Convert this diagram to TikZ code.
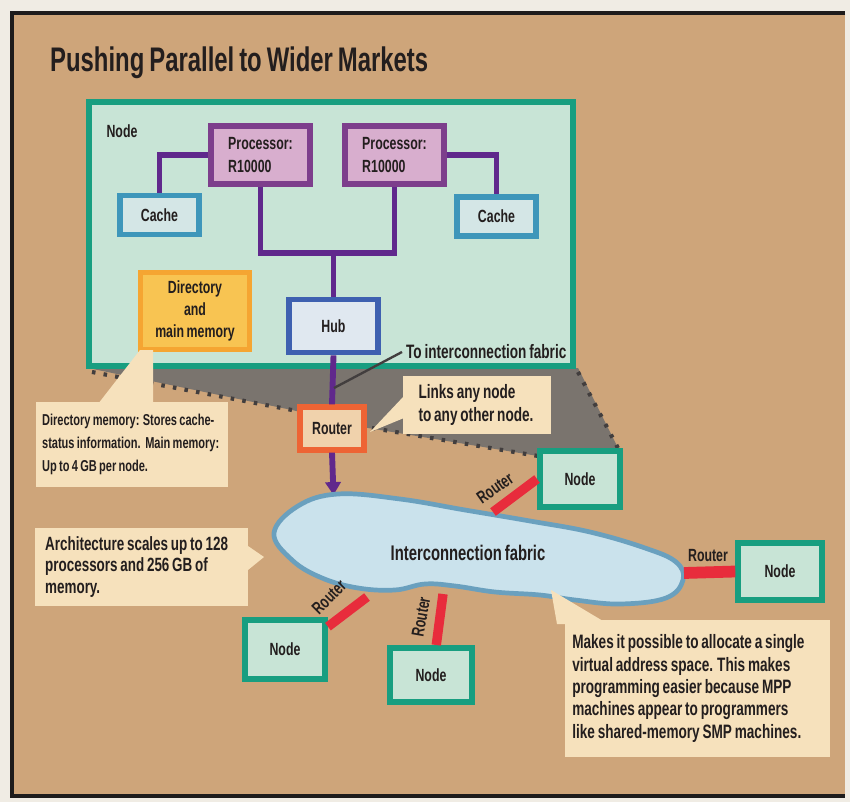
\documentclass[tikz,border=0pt]{standalone}
\usepackage{fontspec}
\setmainfont{Liberation Sans}[FakeStretch=0.7,WordSpace=0.75]
\usetikzlibrary{arrows.meta}

\definecolor{pagelight}{RGB}{240,236,228}
\definecolor{bgtan}{RGB}{206,165,122}
\definecolor{framedark}{RGB}{30,28,28}
\definecolor{inkdark}{RGB}{35,30,30}
\definecolor{nodeteal}{RGB}{24,158,128}
\definecolor{nodefill}{RGB}{200,228,214}
\definecolor{procborder}{RGB}{125,62,140}
\definecolor{procfill}{RGB}{216,174,206}
\definecolor{cacheborder}{RGB}{62,150,186}
\definecolor{cachefill}{RGB}{212,230,230}
\definecolor{hubborder}{RGB}{62,96,176}
\definecolor{hubfill}{RGB}{224,232,240}
\definecolor{busviolet}{RGB}{96,40,140}
\definecolor{dirfill}{RGB}{248,196,82}
\definecolor{dirborder}{RGB}{245,165,50}
\definecolor{routerborder}{RGB}{238,100,52}
\definecolor{routerfill}{RGB}{240,210,172}
\definecolor{calloutfill}{RGB}{246,225,188}
\definecolor{shadowgray}{RGB}{122,116,110}
\definecolor{dotgray}{RGB}{66,62,62}
\definecolor{cloudfill}{RGB}{202,226,236}
\definecolor{cloudborder}{RGB}{106,160,190}
\definecolor{linkred}{RGB}{232,44,60}

\begin{document}
\begin{tikzpicture}[x=0.85pt,y=-0.85pt]
\tikzset{
  every node/.style={font=\bfseries\fontsize{15}{19}\selectfont,text=inkdark},
  nodebox/.style={rectangle,draw=nodeteal,fill=nodefill,line width=5pt},
  procbox/.style={rectangle,draw=procborder,fill=procfill,line width=5pt,minimum width=84pt,minimum height=49pt,align=left},
  cachebox/.style={rectangle,draw=cacheborder,fill=cachefill,line width=4.5pt,minimum width=67pt,minimum height=33pt},
  bus/.style={draw=busviolet,line width=5pt},
  callout/.style={rectangle,fill=calloutfill,align=flush left,anchor=west},
  dotedge/.style={draw=dotgray,line width=3.5pt,dash pattern=on 3pt off 7pt},
  routerlink/.style={draw=linkred,line width=8pt},
  routerlabel/.style={font=\bfseries\fontsize{15}{16}\selectfont,inner sep=0pt}
}
\useasboundingbox (0,0) rectangle (850,802);
% page and frame
\fill[pagelight] (0,0) rectangle (850,802);
\fill[bgtan] (10,12) rectangle (845,796);
\draw[framedark,line width=4pt] (845,13) -- (12,13) -- (12,796) -- (845,796);
\node[anchor=west,font=\bfseries\fontsize{29}{32}\selectfont] (n_title) at (46,63) {Pushing Parallel to Wider Markets};

% shadow cone below the node
\fill[shadowgray] (88,368) -- (578,368) -- (620,452) -- (538,456) -- (368,428) -- (292,410) -- cycle;
\draw[dotedge] (92,372) -- (292,410);
\draw[dotedge] (372,428) -- (538,456);
\draw[dotedge] (578,372) -- (620,452);

% the node
\node[nodebox,minimum width=412pt,minimum height=225pt] (n_node) at (331,234) {};
\node (n_nodetag) at (122,131) {Node};
\node[procbox] (n_proc1) at (260.5,155) {Processor:\\R10000};
\node[procbox] (n_proc2) at (394.5,155) {Processor:\\R10000};
\node[cachebox] (n_cache1) at (159.5,215) {Cache};
\node[cachebox] (n_cache2) at (496.5,216.5) {Cache};
\node[rectangle,draw=hubborder,fill=hubfill,line width=5pt,minimum width=75pt,minimum height=45pt] (n_hub) at (333.5,326) {Hub};
\node[rectangle,draw=dirborder,fill=dirfill,line width=4pt,minimum width=93pt,minimum height=66pt,align=center] (n_dir) at (195,311) {Directory\\and\\main memory};
\coordinate (c_bus) at (333.5,253);
\coordinate (c_busmark) at (334,388);
\coordinate (c_fabrictop) at (333.5,495);
\draw[bus] (n_proc1.west) -| (n_cache1.north);
\draw[bus] (n_proc2.east) -| (n_cache2.north);
\draw[bus] (n_proc1.south) |- (c_bus) -| (n_proc2.south);
\draw[bus] (c_bus) -- (n_hub.north);
\node[anchor=west,font=\bfseries\fontsize{16.5}{19}\selectfont] (n_tolabel) at (402,352) {To interconnection fabric};

% callouts next to the node
\fill[calloutfill] (98,404) -- (140,350) -- (153,350) -- (153,404) -- cycle;
\node[callout,font=\bfseries\fontsize{13.4}{19.5}\selectfont,text width=153pt,inner xsep=5pt,minimum height=72pt] (n_dirnote) at (36,444.5) {Directory memory: Stores cache-\\status information.\ \ Main memory:\\Up to 4 GB per node.};
\fill[calloutfill] (404,396) -- (370,432) -- (404,418) -- cycle;
\node[callout,font=\bfseries\fontsize{16.5}{19.5}\selectfont,text width=100pt,inner xsep=13pt,minimum height=49pt] (n_linknote) at (403,405) {Links any node\\to any other node.};

% router and fabric
\node[rectangle,draw=routerborder,fill=routerfill,line width=5pt,minimum width=55pt,minimum height=36pt] (n_router) at (332,428.5) {Router};
\draw[bus] (n_hub.south) -- (n_router.north);
\draw[dotgray,line width=2pt] (n_tolabel.west) -- (c_busmark);
\draw[bus,-{Triangle[length=11pt,width=13pt]}] (n_router.south) -- (c_fabrictop);
\filldraw[fill=cloudfill,draw=cloudborder,line width=4pt] plot[smooth cycle,tension=0.65] coordinates {(274,533) (298,506) (338,494) (400,499) (465,510) (530,521) (590,532) (645,548) (676,562) (683,580) (666,598) (620,604) (575,600) (540,595) (495,592) (455,586) (425,584) (395,590) (358,588) (322,578) (292,560)};
\node[font=\bfseries\fontsize{18}{20}\selectfont] (n_fabric) at (468,553) {Interconnection fabric};

% other nodes
\node[nodebox,minimum width=68pt,minimum height=48pt] (n_nodeA) at (580,479) {Node};
\node[nodebox,minimum width=71pt,minimum height=48pt] (n_nodeB) at (780,571.5) {Node};
\node[nodebox,minimum width=68pt,minimum height=50pt] (n_nodeC) at (285,649.5) {Node};
\node[nodebox,minimum width=70pt,minimum height=46pt] (n_nodeD) at (431,675) {Node};
\coordinate (c_linkA) at (493,512);
\coordinate (c_linkB) at (684,573);
\coordinate (c_linkC) at (367,597);
\coordinate (c_linkD) at (443,594);
\draw[routerlink] (c_linkA) -- (n_nodeA.west);
\draw[routerlink,line width=10pt] (c_linkB) -- (n_nodeB.west);
\draw[routerlink] (c_linkC) -- (n_nodeC.28);
\draw[routerlink] (c_linkD) -- (n_nodeD.80);
\node[routerlabel,rotate=35] (n_rlabelA) at (495,488) {Router};
\node[routerlabel] (n_rlabelB) at (708,556) {Router};
\node[routerlabel,rotate=45] (n_rlabelC) at (329,597) {Router};
\node[routerlabel,rotate=80] (n_rlabelD) at (421,617) {Router};

% callouts next to the fabric
\fill[calloutfill] (248,546) -- (264,557) -- (248,570) -- cycle;
\node[callout,font=\bfseries\fontsize{16.3}{18.5}\selectfont,text width=164pt,inner xsep=8.5pt,minimum height=66pt] (n_archnote) at (35,567) {Architecture scales up to 128\\processors and 256 GB of\\memory.};
\fill[calloutfill] (551,590) -- (557,624) -- (608,624) -- cycle;
\node[callout,font=\bfseries\fontsize{16.5}{19}\selectfont,text width=213pt,inner xsep=6pt,minimum height=116pt] (n_vasnote) at (565,688.5) {Makes it possible to allocate a single\\virtual address space. This makes\\programming easier because MPP\\machines appear to programmers\\like shared-memory SMP machines.};
\end{tikzpicture}
\end{document}
